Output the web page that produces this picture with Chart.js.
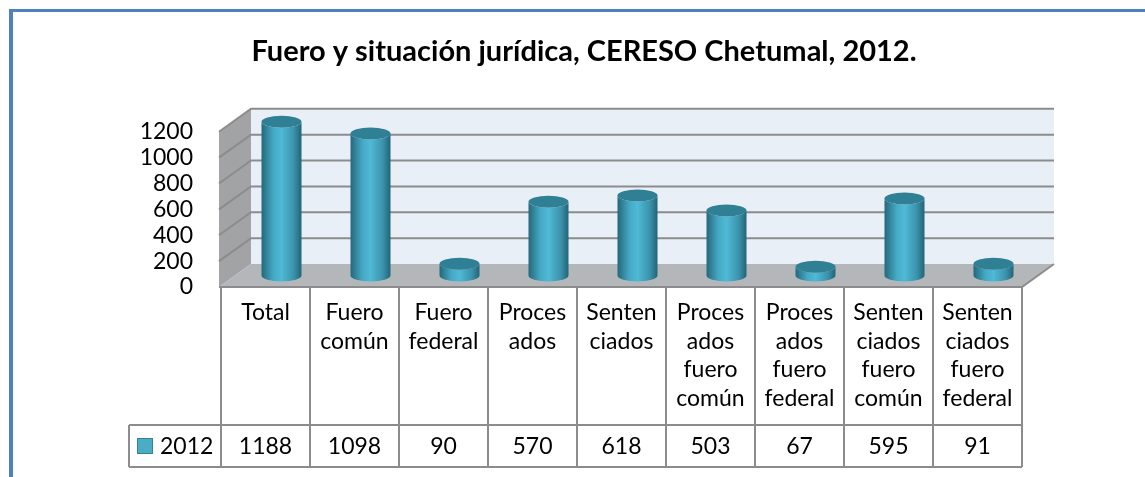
<!DOCTYPE html>
<html>
<head>
<meta charset="utf-8">
<script src="https://cdn.jsdelivr.net/npm/chart.js@4/dist/chart.umd.min.js"></script>
<style>
  html, body { margin: 0; padding: 0; background: #fff; }
  canvas { display: block; }
</style>
</head>
<body>
<canvas id="chart" width="1145" height="477"></canvas>
<script>
// data
const categories = [
    ['Total'],
    ['Fuero', 'común'],
    ['Fuero', 'federal'],
    ['Proces', 'ados'],
    ['Senten', 'ciados'],
    ['Proces', 'ados', 'fuero', 'común'],
    ['Proces', 'ados', 'fuero', 'federal'],
    ['Senten', 'ciados', 'fuero', 'común'],
    ['Senten', 'ciados', 'fuero', 'federal']
];
const seriesName = '2012';
const values2012 = [1188, 1098, 90, 570, 618, 503, 67, 595, 91];
const yTickValues = [0, 200, 400, 600, 800, 1000, 1200];

const FONT = 'Lato, "Liberation Sans", sans-serif';
const DX = 32, DY = -23;          // depth offset of the 3d box
const GRID = '#8c8c8c';

// walls, floor and grid lines behind the cylinders
const box3d = {
    id: 'box3d',
    afterLayout(chart) {
        // y labels are wider than the axis box; widen the box so they are not clipped
        chart.scales.y.left -= 30;
    },
    beforeDraw(chart) {
        const ctx = chart.ctx;
        ctx.save();
        ctx.fillStyle = '#fff';
        ctx.fillRect(0, 0, chart.width, chart.height);
        ctx.fillStyle = '#4f81bd';
        ctx.fillRect(9, 9, chart.width - 9, 3);
        ctx.fillRect(9, 9, 4, chart.height - 9);
        ctx.restore();
    },
    beforeDatasetsDraw(chart) {
        const ctx = chart.ctx;
        const y = chart.scales.y;
        const L = chart.chartArea.left - 2, R = chart.chartArea.right;
        const top = y.getPixelForValue(y.max), B = y.getPixelForValue(0);
        ctx.save();
        // back wall
        ctx.fillStyle = '#e9eff7';
        ctx.fillRect(L + DX, top + DY, R - L, B - top);
        // left wall
        ctx.beginPath();
        ctx.moveTo(L, top); ctx.lineTo(L + DX, top + DY);
        ctx.lineTo(L + DX, B + DY); ctx.lineTo(L, B);
        ctx.closePath();
        ctx.fillStyle = '#a2a3a4';
        ctx.fill();
        // floor
        ctx.beginPath();
        ctx.moveTo(L, B); ctx.lineTo(R, B);
        ctx.lineTo(R + DX, B + DY); ctx.lineTo(L + DX, B + DY);
        ctx.closePath();
        ctx.fillStyle = '#b4b7ba';
        ctx.fill();
        ctx.strokeStyle = GRID;
        ctx.lineWidth = 2;
        ctx.beginPath();
        ctx.moveTo(L, B); ctx.lineTo(R, B); ctx.lineTo(R + DX, B + DY);
        ctx.stroke();
        // grid lines
        yTickValues.forEach(v => {
            if (v === 0) return;
            const py = y.getPixelForValue(v);
            ctx.beginPath();
            ctx.moveTo(L, py);
            ctx.lineTo(L + DX, py + DY);
            ctx.lineTo(R + DX, py + DY);
            ctx.stroke();
        });
        ctx.restore();
    },
    afterDatasetsDraw(chart) {
        const ctx = chart.ctx;
        const meta = chart.getDatasetMeta(0);
        ctx.save();
        meta.data.forEach(bar => {
            const p = bar.getProps(['x', 'y', 'base', 'width'], true);
            const cx = p.x + DX / 2, rx = p.width / 2, ry = 6;
            const yt = p.y + DY / 2, yb = p.base + DY / 2;
            const g = ctx.createLinearGradient(cx - rx, 0, cx + rx, 0);
            g.addColorStop(0, '#25687b');
            g.addColorStop(0.3, '#45a9c5');
            g.addColorStop(0.5, '#4fb9d6');
            g.addColorStop(0.8, '#3b94ad');
            g.addColorStop(1, '#236478');
            ctx.beginPath();
            ctx.moveTo(cx - rx, yt);
            ctx.lineTo(cx - rx, yb);
            ctx.ellipse(cx, yb, rx, ry, 0, Math.PI, 0, true);
            ctx.lineTo(cx + rx, yt);
            ctx.ellipse(cx, yt, rx, ry, 0, 0, Math.PI, false);
            ctx.closePath();
            ctx.fillStyle = g;
            ctx.fill();
            ctx.beginPath();
            ctx.ellipse(cx, yt, rx, ry, 0, 0, Math.PI * 2);
            ctx.fillStyle = '#2f7f95';
            ctx.fill();
        });
        ctx.restore();
    }
};

// data table under the plot
const dataTable = {
    id: 'dataTable',
    afterDraw(chart) {
        const ctx = chart.ctx;
        const x = chart.scales.x;
        const B = chart.scales.y.getPixelForValue(0);
        const colW = (chart.chartArea.right - chart.chartArea.left) / categories.length;
        const headBot = 425, rowBot = 467, legLeft = 129;
        const L = x.getPixelForValue(0) - colW / 2;
        const R = L + colW * categories.length;
        ctx.save();
        ctx.strokeStyle = GRID;
        ctx.lineWidth = 2;
        ctx.beginPath();
        for (let i = 0; i <= categories.length; i++) {
            const bx = L + colW * i;
            ctx.moveTo(bx, B); ctx.lineTo(bx, rowBot);
        }
        ctx.moveTo(legLeft, headBot); ctx.lineTo(R, headBot);
        ctx.moveTo(legLeft, rowBot); ctx.lineTo(R, rowBot);
        ctx.moveTo(legLeft, headBot); ctx.lineTo(legLeft, rowBot);
        ctx.stroke();

        ctx.fillStyle = '#000';
        ctx.font = '23px ' + FONT;
        ctx.textAlign = 'center';
        ctx.textBaseline = 'middle';
        chart.data.labels.forEach((lab, i) => {
            const cx = x.getPixelForValue(i);
            lab.forEach((line, j) => ctx.fillText(line, cx, 313 + j * 28.5));
            ctx.fillText(String(chart.data.datasets[0].data[i]), cx, 447);
        });
        // legend key
        ctx.fillStyle = '#4bacc6';
        ctx.fillRect(137, 438, 16, 16);
        ctx.strokeStyle = '#357f93';
        ctx.lineWidth = 1;
        ctx.strokeRect(137.5, 438.5, 15, 15);
        ctx.fillStyle = '#000';
        ctx.textAlign = 'left';
        ctx.fillText(chart.data.datasets[0].label, 160, 447);
        ctx.restore();
    }
};

new Chart(document.getElementById('chart'), {
    type: 'bar',
    data: {
        labels: categories,
        datasets: [{
            label: seriesName,
            data: values2012,
            backgroundColor: 'rgba(0,0,0,0)',
            borderWidth: 0,
            barPercentage: 40 / 89,
            categoryPercentage: 1
        }]
    },
    options: {
        responsive: false,
        animation: false,
        devicePixelRatio: 1,
        layout: { padding: { left: 146, right: 123, top: 10, bottom: 190 } },
        plugins: {
            legend: { display: false },
            tooltip: { enabled: false },
            title: {
                display: true,
                text: 'Fuero y situación jurídica, CERESO Chetumal, 2012.',
                color: '#000',
                font: { family: FONT, size: 29, weight: 'bold' },
                padding: { top: 24, bottom: 63 }
            }
        },
        scales: {
            x: { display: false },
            y: {
                min: 0,
                max: 1200,
                grid: { display: false, drawTicks: false },
                border: { display: false },
                ticks: {
                    stepSize: 200,
                    autoSkip: false,
                    padding: 28,
                    color: '#000',
                    font: { family: FONT, size: 23 },
                    callback: v => String(v)
                },
                afterFit(scale) { scale.width = 75; }
            }
        }
    },
    plugins: [box3d, dataTable]
});
</script>
</body>
</html>
